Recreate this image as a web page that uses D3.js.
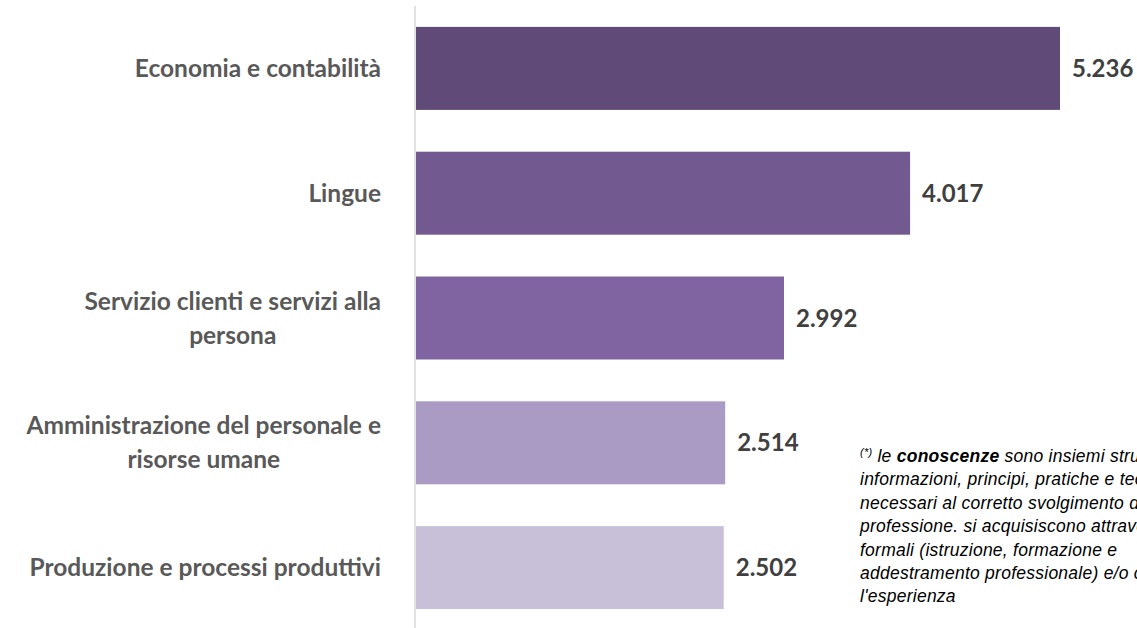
<!DOCTYPE html>
<html>
<head>
<meta charset="utf-8">
<script src="https://cdn.jsdelivr.net/npm/d3@7"></script>
<style>
  html, body { margin: 0; padding: 0; background: #fff; }
  svg { display: block; }
</style>
</head>
<body>
<svg id="chart" width="1137" height="628"></svg>
<script>
// ---- data ----
const categories = [
  ["Economia e contabilità"],
  ["Lingue"],
  ["Servizio clienti e servizi alla", "persona"],
  ["Amministrazione del personale e", "risorse umane"],
  ["Produzione e processi produttivi"]
];
const values = [5.236, 4.017, 2.992, 2.514, 2.502];
const valueLabels = ["5.236", "4.017", "2.992", "2.514", "2.502"];
const barColors = ["#5f4a78", "#725a91", "#8064a2", "#a99bc3", "#c8c0d9"];
const noteLines = [
  null,
  "informazioni, principi, pratiche e teorie",
  "necessari al corretto svolgimento della",
  "professione. si acquisiscono attraverso percorsi",
  "formali (istruzione, formazione e",
  "addestramento professionale) e/o con",
  "l'esperienza"
];

const svg = d3.select("#chart");
const ids = d3.range(values.length);

const x = d3.scaleLinear().domain([0, 5.236]).range([416, 1060]);
const y = d3.scaleBand().domain(ids).range([6, 630]).paddingInner(0.335).paddingOuter(0.1675);

// axis line
const yAxis = d3.axisLeft(y).tickSize(0).tickFormat("");
const ax = svg.append("g").attr("transform", "translate(415,0)").call(yAxis);
ax.select(".domain").attr("stroke", "#d9d9d9").attr("stroke-width", 1.5).attr("d", "M0,6V628");

// bars
svg.append("g").selectAll("rect").data(ids).join("rect")
  .attr("x", x(0))
  .attr("y", i => y(i))
  .attr("width", i => x(values[i]) - x(0))
  .attr("height", y.bandwidth())
  .attr("fill", i => barColors[i]);

// value labels
svg.append("g").selectAll("text").data(ids).join("text")
  .attr("x", i => x(values[i]) + 12)
  .attr("y", i => y(i) + y.bandwidth() / 2)
  .attr("dy", "0.36em")
  .attr("font-family", "Lato, 'Open Sans', sans-serif")
  .attr("font-weight", 700)
  .attr("font-size", 24)
  .attr("fill", "#404040")
  .text(i => valueLabels[i]);

// category labels: block right-aligned, lines centred within block
const labelRight = 381;
const lineH = 34;
const lg = svg.append("g")
  .attr("font-family", "Lato, 'Open Sans', sans-serif")
  .attr("font-weight", 700)
  .attr("font-size", 24.5)
  .attr("fill", "#595959");
ids.forEach(i => {
  const lines = categories[i];
  const cy = y(i) + y.bandwidth() / 2;
  const g = lg.append("g");
  const texts = lines.map((ln, k) => g.append("text")
    .attr("text-anchor", "middle")
    .attr("y", cy + (k - (lines.length - 1) / 2) * lineH)
    .attr("dy", "0.35em")
    .text(ln));
  const w = d3.max(texts, t => t.node().getComputedTextLength());
  texts.forEach(t => t.attr("x", labelRight - w / 2));
});

// note
const note = svg.append("g")
  .attr("font-family", "'Liberation Sans', Arial, sans-serif")
  .attr("font-style", "italic")
  .attr("font-size", 17.5)
  .attr("letter-spacing", 0.25)
  .attr("fill", "#000");
const noteX = 860, noteY0 = 462, noteDY = 23.4;
const t1 = note.append("text").attr("x", noteX).attr("y", noteY0);
t1.append("tspan").attr("font-size", 11).attr("dy", -6).text("(*)");
t1.append("tspan").attr("dy", 6).text(" le ");
t1.append("tspan").attr("font-weight", 700).text("conoscenze");
t1.append("tspan").text(" sono insiemi strutturati di");
noteLines.forEach((ln, k) => {
  if (!ln) return;
  note.append("text").attr("x", noteX).attr("y", noteY0 + k * noteDY).text(ln);
});
</script>
</body>
</html>
